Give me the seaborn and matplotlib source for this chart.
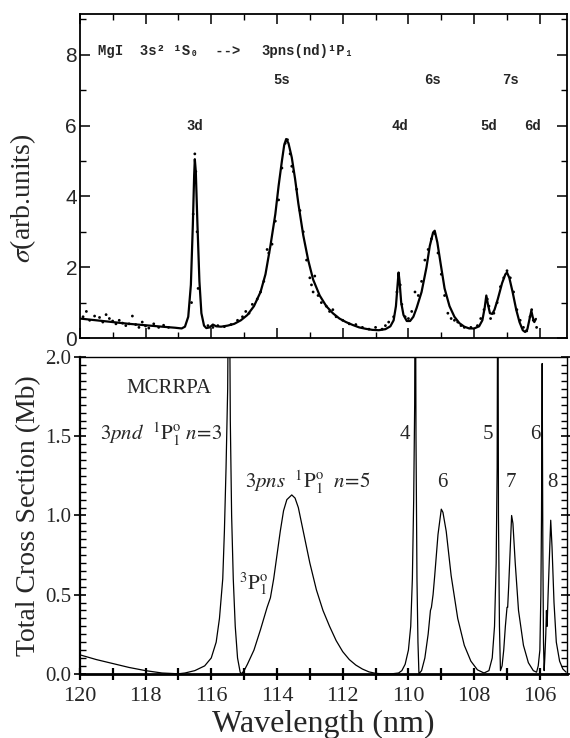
import matplotlib
matplotlib.use("Agg")
import matplotlib.pyplot as plt
from matplotlib.ticker import MultipleLocator, NullFormatter
import numpy as np
import pandas as pd
import seaborn as sns

sns.set_theme(style="ticks")
plt.rcParams["font.family"] = ["Liberation Serif", "DejaVu Serif"]
plt.rcParams["mathtext.fontset"] = "stix"

# ---- measured photoabsorption (upper panel): smooth fit curve ----
exp_wl = [120.0, 119.5, 119.0, 118.5, 118.0, 117.5, 117.1, 116.9, 116.8, 116.7,
          116.62, 116.56, 116.52, 116.5, 116.47, 116.42, 116.36, 116.3, 116.22, 116.15,
          116.05, 115.95, 115.85, 115.7, 115.5, 115.3, 115.1, 114.9, 114.7, 114.5,
          114.35, 114.2, 114.05, 113.95, 113.85, 113.78, 113.72, 113.65, 113.55, 113.45,
          113.35, 113.2, 113.05, 112.9, 112.7, 112.5, 112.3, 112.1, 111.9, 111.7,
          111.5, 111.3, 111.1, 110.9, 110.7, 110.55, 110.45, 110.38, 110.33, 110.3,
          110.27, 110.22, 110.15, 110.05, 109.95, 109.85, 109.75, 109.6, 109.45, 109.35,
          109.25, 109.2, 109.12, 109.02, 108.9, 108.75, 108.6, 108.45, 108.3, 108.15,
          108.0, 107.85, 107.75, 107.68, 107.63, 107.58, 107.52, 107.45, 107.38, 107.28,
          107.15, 107.05, 107.0, 106.93, 106.83, 106.72, 106.62, 106.52, 106.45, 106.38,
          106.3, 106.26, 106.22, 106.17, 106.12]
exp_sigma = [0.55, 0.5, 0.45, 0.4, 0.36, 0.32, 0.29, 0.27, 0.32, 0.6,
             1.5, 3.2, 4.6, 5.05, 4.7, 3.2, 1.6, 0.7, 0.35, 0.28,
             0.3, 0.38, 0.33, 0.32, 0.35, 0.4, 0.5, 0.65, 0.9, 1.3,
             1.8, 2.6, 3.5, 4.3, 5.0, 5.45, 5.62, 5.5, 5.1, 4.5,
             3.8, 2.9, 2.2, 1.65, 1.2, 0.9, 0.7, 0.55, 0.45, 0.37,
             0.3, 0.26, 0.23, 0.22, 0.25, 0.33, 0.5, 0.9, 1.5, 1.85,
             1.6, 1.0, 0.65, 0.48, 0.48, 0.6, 0.85, 1.3, 2.0, 2.6,
             2.98, 3.03, 2.7, 2.1, 1.4, 0.9, 0.6, 0.42, 0.32, 0.27,
             0.27, 0.33, 0.5, 0.85, 1.2, 0.95, 0.7, 0.68, 0.8, 1.1,
             1.55, 1.8, 1.85, 1.7, 1.3, 0.8, 0.45, 0.22, 0.17, 0.25,
             0.6, 0.77, 0.6, 0.45, 0.54]

# ---- measured photoabsorption (upper panel): individual data points ----
pts_wl = [119.9, 119.8, 119.7, 119.55, 119.4, 119.3, 119.2, 119.1, 119.0, 118.9,
          118.8, 118.7, 118.6, 118.5, 118.4, 118.3, 118.2, 118.1, 118.0, 117.9,
          117.75, 117.6, 117.45, 117.3, 116.6, 116.55, 116.5, 116.47, 116.43, 116.4,
          116.1, 115.95, 115.8, 115.6, 115.4, 115.2, 115.05, 114.95, 114.85, 114.75,
          114.6, 114.5, 114.4, 114.3, 114.25, 114.15, 114.05, 113.95, 113.85, 113.75,
          113.68, 113.6, 113.55, 113.5, 113.4, 113.3, 113.2, 113.1, 113.0, 112.95,
          112.9, 112.85, 112.75, 112.65, 112.5, 112.4, 112.3, 112.2, 112.0, 111.8,
          111.6, 111.4, 111.2, 111.0, 110.8, 110.7, 110.6, 110.45, 110.35, 110.3,
          110.25, 110.2, 110.1, 110.0, 109.9, 109.8, 109.7, 109.6, 109.5, 109.4,
          109.3, 109.2, 109.1, 109.0, 108.9, 108.8, 108.7, 108.6, 108.5, 108.4,
          108.3, 108.1, 107.9, 107.8, 107.7, 107.6, 107.55, 107.5, 107.4, 107.3,
          107.2, 107.1, 107.0, 106.9, 106.8, 106.7, 106.6, 106.5, 106.4, 106.3,
          106.25, 106.2, 106.1]
pts_sigma = [0.6, 0.75, 0.5, 0.62, 0.58, 0.45, 0.66, 0.55, 0.48, 0.4,
             0.5, 0.42, 0.35, 0.4, 0.62, 0.38, 0.3, 0.45, 0.34, 0.28,
             0.4, 0.3, 0.36, 0.3, 1.0, 3.5, 5.2, 4.7, 3.0, 1.4,
             0.35, 0.3, 0.35, 0.32, 0.38, 0.5, 0.6, 0.75, 0.7, 0.95,
             1.1, 1.3, 1.6, 2.5, 2.4, 2.65, 3.3, 3.9, 4.8, 5.5,
             5.6, 5.2, 4.85, 4.7, 4.2, 3.6, 3.0, 2.2, 1.7, 1.5,
             1.3, 1.75, 1.2, 1.0, 0.9, 0.75, 0.8, 0.6, 0.5, 0.4,
             0.38, 0.3, 0.25, 0.3, 0.25, 0.35, 0.45, 0.6, 1.3, 1.65,
             1.5, 0.95, 0.6, 0.55, 0.75, 1.3, 1.2, 1.6, 2.2, 2.5,
             2.8, 2.95, 2.4, 1.8, 1.2, 0.7, 0.55, 0.5, 0.45, 0.35,
             0.3, 0.3, 0.35, 0.55, 0.8, 1.1, 0.9, 0.55, 0.7, 1.0,
             1.45, 1.7, 1.9, 1.7, 1.3, 0.8, 0.5, 0.3, 0.2, 0.6,
             0.8, 0.5, 0.3]

# ---- MCRRPA total cross section (lower panel) ----
calc_wl = [120.0, 119.5, 119.0, 118.5, 118.0, 117.5, 117.0, 116.8, 116.5, 116.2,
           116.0, 115.85, 115.75, 115.65, 115.6, 115.55, 115.5, 115.46, 115.42, 115.38,
           115.33, 115.27, 115.2, 115.12, 115.08, 115.0, 114.9, 114.7, 114.5, 114.3,
           114.25, 114.2, 114.1, 114.0, 113.9, 113.8, 113.7, 113.6, 113.55, 113.45,
           113.35, 113.2, 113.0, 112.8, 112.6, 112.4, 112.2, 112.0, 111.8, 111.6,
           111.4, 111.2, 111.0, 110.8, 110.5, 110.3, 110.2, 110.1, 110.0, 109.93,
           109.88, 109.84, 109.81, 109.79, 109.77, 109.74, 109.71, 109.68, 109.6, 109.5,
           109.4, 109.33, 109.3, 109.25, 109.2, 109.1, 109.0, 108.95, 108.85, 108.7,
           108.5, 108.3, 108.1, 107.9, 107.7, 107.55, 107.45, 107.38, 107.33, 107.3,
           107.28, 107.26, 107.23, 107.2, 107.15, 107.1, 107.05, 107.0, 106.98, 106.95,
           106.9, 106.86, 106.82, 106.75, 106.65, 106.5, 106.35, 106.2, 106.1, 106.05,
           106.0, 105.97, 105.95, 105.93, 105.91, 105.89, 105.87, 105.85, 105.82, 105.8,
           105.78, 105.75, 105.7, 105.67, 105.63, 105.57, 105.5, 105.4, 105.3, 105.2]
calc_xs = [0.12, 0.09, 0.065, 0.04, 0.02, 0.005, 0.0, 0.005, 0.02, 0.05,
           0.1, 0.2, 0.35, 0.6, 0.9, 1.3, 1.8, 3.0, 1.6, 1.0,
           0.6, 0.3, 0.1, 0.01, 0.0, 0.02, 0.06, 0.15, 0.28, 0.42,
           0.45, 0.48, 0.6, 0.75, 0.9, 1.03, 1.1, 1.12, 1.13, 1.11,
           1.05, 0.9, 0.7, 0.53, 0.4, 0.3, 0.21, 0.14, 0.09, 0.055,
           0.03, 0.012, 0.003, 0.0, 0.0, 0.005, 0.02, 0.06, 0.15, 0.3,
           0.6, 1.1, 1.7, 3.0, 1.5, 0.6, 0.2, 0.0, 0.02, 0.1,
           0.25, 0.4, 0.42, 0.5, 0.62, 0.88, 1.04, 1.02, 0.9, 0.62,
           0.35, 0.18, 0.08, 0.025, 0.005, 0.02, 0.1, 0.3, 0.7, 1.3,
           3.0, 1.0, 0.3, 0.02, 0.05, 0.15, 0.3, 0.42, 0.42, 0.55,
           0.8, 1.0, 0.95, 0.7, 0.4, 0.18, 0.07, 0.02, 0.01, 0.05,
           0.15, 0.5, 1.0, 1.96, 0.8, 0.2, 0.02, 0.1, 0.25, 0.4,
           0.3, 0.5, 0.8, 0.97, 0.8, 0.45, 0.2, 0.08, 0.03, 0.01]

# ---- resonance labels ----
top_lbl = ["3d", "5s", "4d", "6s", "5d", "7s", "6d"]
top_lbl_x = [116.5, 113.86, 110.27, 109.27, 107.56, 106.89, 106.23]
top_lbl_y = [6.0, 7.3, 6.0, 7.3, 6.0, 7.3, 6.0]

bot_lbl = ["4", "6", "5", "7", "6", "8"]
bot_lbl_x = [110.12, 108.97, 107.58, 106.89, 106.14, 105.62]
bot_lbl_y = [1.51, 1.21, 1.51, 1.21, 1.51, 1.21]

exp_df = pd.DataFrame({"wl": exp_wl, "sigma": exp_sigma})
pts_df = pd.DataFrame({"wl": pts_wl, "sigma": pts_sigma})
calc_df = pd.DataFrame({"wl": calc_wl, "xs": calc_xs})

fig = plt.figure(figsize=(5.70, 7.38), dpi=100)
ax1 = fig.add_axes([0.140, 0.542, 0.855, 0.439])
ax2 = fig.add_axes([0.140, 0.087, 0.855, 0.429])

mono = ["Liberation Mono", "DejaVu Sans Mono"]

# upper panel
sns.lineplot(data=exp_df, x="wl", y="sigma", ax=ax1, color="black", lw=1.6,
             sort=False, estimator=None)
sns.scatterplot(data=pts_df, x="wl", y="sigma", ax=ax1, color="black", s=4,
                edgecolor="none")
ax1.set_xlim(120, 105.17)
ax1.set_ylim(0, 9.15)
ax1.xaxis.set_major_locator(MultipleLocator(2))
ax1.xaxis.set_minor_locator(MultipleLocator(1))
ax1.yaxis.set_major_locator(MultipleLocator(2))
ax1.yaxis.set_minor_locator(MultipleLocator(1))
ax1.xaxis.set_major_formatter(NullFormatter())
ax1.tick_params(axis="both", which="major", direction="in", length=7, width=1.1,
                top=True, right=True, color="black")
ax1.tick_params(axis="both", which="minor", direction="in", length=4, width=1.0,
                top=True, right=True, color="black")
ax1.tick_params(axis="y", labelsize=15, pad=2)
for lab in ax1.get_yticklabels():
    lab.set_family(["Liberation Sans", "DejaVu Sans"])
ax1.set_xlabel("")
ax1.set_ylabel(r"$\sigma$(arb.units)", fontsize=20, labelpad=2)
ax1.yaxis.set_label_coords(-0.085, 0.43)
for s in ax1.spines.values():
    s.set_linewidth(1.3)
    s.set_color("black")

ax1.text(119.45, 8.1, "MgI  3s² ¹S₀  -->", family=mono, fontweight="bold",
         fontsize=10, va="center", ha="left")
ax1.text(114.47, 8.1, "3pns(nd)¹P₁", family=mono, fontweight="bold",
         fontsize=10, va="center", ha="left")
for t, x, y in zip(top_lbl, top_lbl_x, top_lbl_y):
    ax1.text(x, y, t, family=mono, fontweight="bold", fontsize=10,
             ha="center", va="center")

# lower panel
sns.lineplot(data=calc_df, x="wl", y="xs", ax=ax2, color="black", lw=0.9,
             sort=False, estimator=None)
ax2.set_xlim(120, 105.17)
ax2.set_ylim(0, 2.0)
ax2.xaxis.set_major_locator(MultipleLocator(2))
ax2.xaxis.set_minor_locator(MultipleLocator(1))
ax2.yaxis.set_major_locator(MultipleLocator(0.5))
ax2.yaxis.set_minor_locator(MultipleLocator(0.05))
ax2.yaxis.set_major_formatter(lambda v, p: f"{v:.1f}")
ax2.tick_params(axis="x", which="both", direction="inout", length=9, width=1.6,
                labelsize=16, pad=5, color="black")
ax2.tick_params(axis="y", which="major", direction="inout", length=8, width=1.2,
                right=True, labelsize=15, pad=2, color="black")
ax2.tick_params(axis="y", which="minor", direction="in", length=4, width=1.0,
                right=True, color="black")
ax2.set_xlabel("Wavelength (nm)", fontsize=23, labelpad=3)
ax2.set_ylabel("Total Cross Section (Mb)", fontsize=20, labelpad=3)
for s in ax2.spines.values():
    s.set_linewidth(1.0)
    s.set_color("black")
ax2.spines["bottom"].set_linewidth(2.0)
ax2.spines["left"].set_linewidth(1.6)

ax2.text(117.29, 1.80, "MCRRPA", fontsize=15, ha="center", va="center")
ax2.text(119.39, 1.51, r"$3pnd\ \ ^1\mathrm{P}_1^\mathrm{o}\ n\!=\!3$",
         fontsize=15, ha="left", va="center")
ax2.text(114.97, 1.21, r"$3pns\ \ ^1\mathrm{P}_1^\mathrm{o}\ \ n\!=\!5$",
         fontsize=15, ha="left", va="center")
ax2.text(115.17, 0.57, r"$^3\mathrm{P}_1^\mathrm{o}$", fontsize=15,
         ha="left", va="center")
for t, x, y in zip(bot_lbl, bot_lbl_x, bot_lbl_y):
    ax2.text(x, y, t, fontsize=15, ha="center", va="center")

fig.savefig("out.png", dpi=100)
